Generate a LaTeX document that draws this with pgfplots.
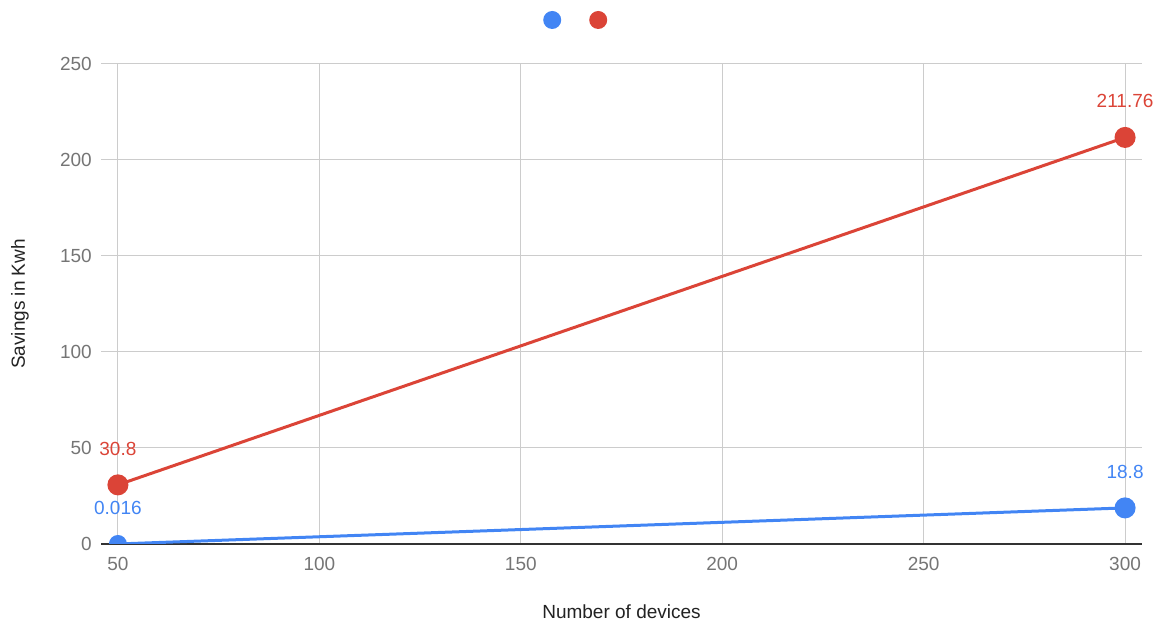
\documentclass[border=0pt]{standalone}
\usepackage{pgfplots}
\pgfplotsset{compat=1.18}
\usepackage{fontspec}
\setmainfont{Liberation Sans}

\definecolor{gblue}{HTML}{4285F4}
\definecolor{gred}{HTML}{DB4437}
\definecolor{gridgray}{HTML}{CCCCCC}
\definecolor{ticktext}{HTML}{757575}
\definecolor{titletext}{HTML}{222222}
\definecolor{zeroline}{HTML}{333333}

% upper half of a filled disc, for a point sitting on the zero line
\pgfdeclareplotmark{upperhalf}{%
  \pgfpathmoveto{\pgfqpoint{\pgfplotmarksize}{0pt}}%
  \pgfpatharc{0}{180}{\pgfplotmarksize}%
  \pgfpathclose
  \pgfusepathqfill}

\begin{document}
\begin{tikzpicture}
\useasboundingbox (0,0) rectangle (1164bp,622bp);
\begin{axis}[
  at={(101bp,78bp)}, anchor=south west,
  scale only axis,
  width=1041bp, height=480bp,
  xmin=45.8, xmax=304.2,
  ymin=0, ymax=250,
  xtick={50,100,150,200,250,300},
  ytick={0,50,100,150,200,250},
  major tick length=0pt,
  tick style={draw=none},
  grid=major,
  major grid style={gridgray, line width=1bp},
  axis x line*=bottom,
  axis y line*=left,
  x axis line style={zeroline, line width=1.5bp},
  y axis line style={draw=none},
  font=\fontsize{19bp}{23bp}\selectfont,
  /pgf/number format/assume math mode=true,
  tick label style={text=ticktext, inner sep=0pt},
  yticklabel style={anchor=east, xshift=-9bp},
  xticklabel style={anchor=north, yshift=-13bp},
  xlabel={Number of devices},
  ylabel={Savings in Kwh},
  label style={text=titletext},
  xlabel style={at={(axis description cs:0.5,-0.1417)}, anchor=center},
  ylabel style={at={(axis description cs:-0.0778,0.5)}, anchor=center},
  legend columns=-1,
  legend style={at={(axis description cs:0.4246,1.0917)}, anchor=west,
    draw=none, fill=none, inner sep=0pt, nodes={inner sep=0pt}},
  legend image code/.code={\fill[draw=none] (9bp,0) circle (9bp);},
  point meta=explicit symbolic,
  every node near coord/.append style={anchor=center, yshift=36bp,
    font=\fontsize{19bp}{23bp}\selectfont},
]
% annual savings, first scenario
\addplot[gblue, line width=3bp, mark=*, mark size=9bp, mark indices={2},
  mark options={fill=gblue, draw=none},
  nodes near coords,
  every node near coord/.append style={text=gblue}]
  table[meta=lbl] {
  x   y      lbl
  50  0.016  0.016
  300 18.8   18.8
  };
\addlegendentry{\hspace*{28bp}}
% annual savings, second scenario
\addplot[gred, line width=3bp, mark=*, mark size=9bp,
  mark options={fill=gred, draw=none},
  nodes near coords,
  every node near coord/.append style={text=gred}]
  table[meta=lbl] {
  x   y       lbl
  50  30.8    30.8
  300 211.76  211.76
  };
\addlegendentry{\mbox{}}
% first point of the first scenario rests on the zero line
\addplot[gblue, only marks, mark=upperhalf, mark size=9bp,
  mark options={fill=gblue, draw=none}, forget plot,
  nodes near coords,
  every node near coord/.append style={text=gblue}]
  table[meta=lbl] {
  x   y      lbl
  50  0.016  0.016
  };
\end{axis}
\end{tikzpicture}
\end{document}
